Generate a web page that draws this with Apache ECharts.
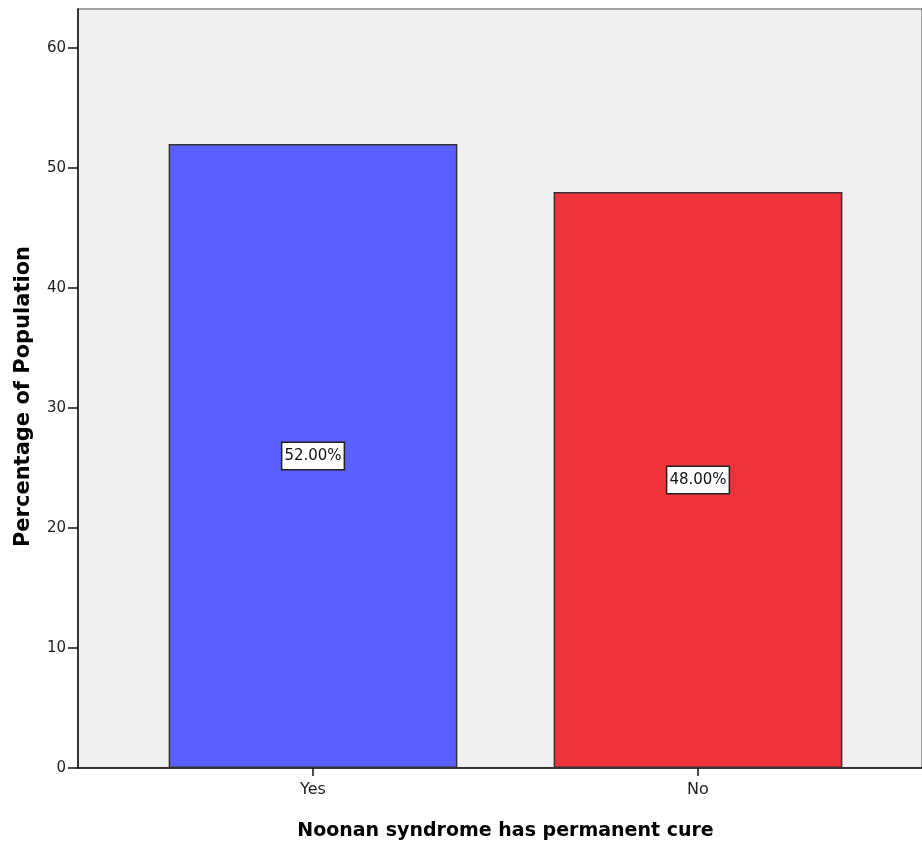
<!DOCTYPE html>
<html>
<head>
<meta charset="utf-8">
<script src="https://cdn.jsdelivr.net/npm/echarts@6/dist/echarts.min.js"></script>
<style>
  html, body { margin: 0; padding: 0; background: #fff; }
  #chart { width: 922px; height: 846px; }
</style>
</head>
<body>
<div id="chart"></div>
<script>
// Responses to "Noonan syndrome has permanent cure"
const categories = ['Yes', 'No'];
const percentages = [52, 48];
const barColors = ['#5b5fff', '#f0323a'];
const yTickValues = [0, 10, 20, 30, 40, 50, 60];
const yMax = 63.25;

const chart = echarts.init(document.getElementById('chart'));

const fontFamily = '"DejaVu Sans", Verdana, sans-serif';

chart.setOption({
  animation: false,
  backgroundColor: '#ffffff',
  grid: [
    // Shaded plotting frame with the value axis
    {
      left: 78, top: 9, right: -2, bottom: 78,
      show: true, backgroundColor: '#f0f0f0',
      borderColor: '#858585', borderWidth: 1.5
    },
    // Inner band area holding the two category bars
    {
      left: 120.5, top: 9, width: 770, bottom: 78
    }
  ],
  xAxis: [
    {
      gridIndex: 0, type: 'value', min: 0, max: 1,
      axisLine: { show: true, onZero: false, lineStyle: { color: '#111', width: 1.5 } },
      axisTick: { show: false }, axisLabel: { show: false }, splitLine: { show: false }
    },
    {
      gridIndex: 1, type: 'category', data: categories,
      axisLine: { show: false },
      axisTick: { show: true, alignWithLabel: true, length: 8, lineStyle: { color: '#111', width: 1.5 } },
      axisLabel: { color: '#222', fontSize: 16, fontFamily: fontFamily, margin: 14 },
      name: 'Noonan syndrome has permanent cure',
      nameLocation: 'middle', nameGap: 54,
      nameTextStyle: { color: '#000', fontSize: 19, fontWeight: 'bold', fontFamily: fontFamily }
    }
  ],
  yAxis: [
    {
      gridIndex: 0, type: 'value', min: 0, max: yMax,
      axisLine: { show: true, lineStyle: { color: '#111', width: 1.5 } },
      axisTick: { show: true, length: 10, customValues: yTickValues, lineStyle: { color: '#111', width: 1.5 } },
      axisLabel: {
        customValues: yTickValues, color: '#222', fontSize: 15,
        fontFamily: fontFamily, margin: 12
      },
      splitLine: { show: false },
      name: 'Percentage of Population',
      nameLocation: 'middle', nameGap: 44,
      nameTextStyle: {
        color: '#000', fontSize: 21, fontWeight: 'bold', fontFamily: fontFamily,
        padding: [0, 16, 0, 0]
      }
    },
    {
      gridIndex: 1, type: 'value', min: 0, max: yMax, show: false,
      splitLine: { show: false }
    }
  ],
  series: [
    {
      type: 'bar',
      xAxisIndex: 1, yAxisIndex: 1,
      barWidth: '75%',
      data: percentages.map((v, i) => ({
        value: v,
        itemStyle: { color: barColors[i] }
      })),
      itemStyle: { borderColor: '#333', borderWidth: 1.5 },
      label: {
        show: true, position: 'inside',
        formatter: p => p.value.toFixed(2) + '%',
        color: '#111', fontSize: 15, fontFamily: fontFamily,
        backgroundColor: '#fff', borderColor: '#222', borderWidth: 1.5,
        padding: [6, 2, 5, 2]
      }
    }
  ]
});
</script>
</body>
</html>
